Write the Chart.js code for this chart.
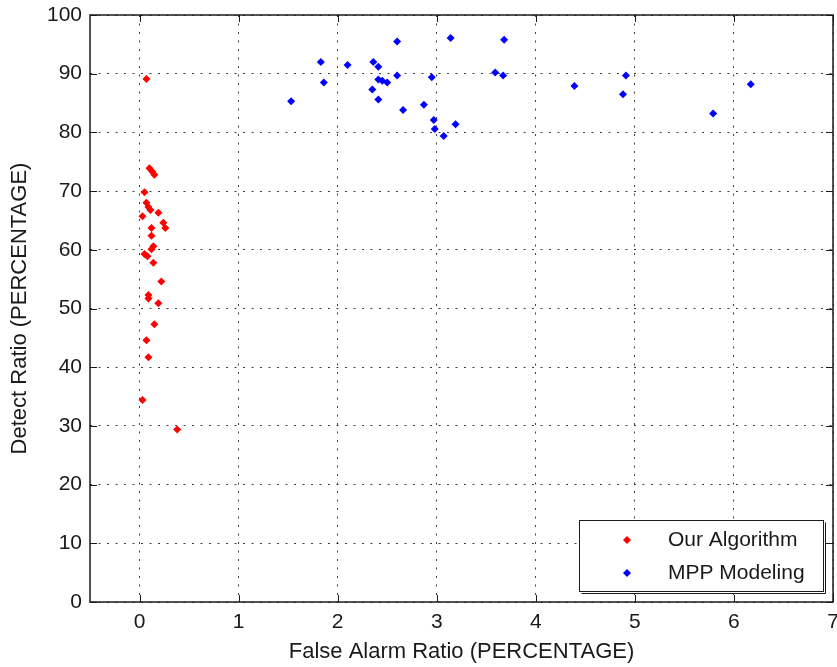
<!DOCTYPE html>
<html>
<head>
<meta charset="utf-8">
<script src="https://cdn.jsdelivr.net/npm/chart.js@4.4.1/dist/chart.umd.min.js"></script>
<style>
  html, body { margin: 0; padding: 0; background: #fff; }
  #wrap { width: 837px; height: 667px; }
</style>
</head>
<body>
<div id="wrap"><canvas id="chart" width="837" height="667"></canvas></div>
<script>
// values
const ourX = [0.07, 0.10, 0.13, 0.15, 0.05, 0.07, 0.09, 0.11, 0.19, 0.03, 0.24, 0.26, 0.12, 0.12,
              0.14, 0.12, 0.05, 0.08, 0.14, 0.22, 0.09, 0.09, 0.19, 0.15, 0.07, 0.09, 0.03, 0.38];
const ourY = [89.1, 73.9, 73.3, 72.8, 69.8, 68.0, 67.3, 66.8, 66.3, 65.7, 64.6, 63.7, 63.7, 62.4,
              60.6, 60.1, 59.3, 58.9, 57.8, 54.6, 52.3, 51.7, 50.9, 47.3, 44.6, 41.7, 34.4, 29.4];

const mppX = [1.53, 1.83, 1.86, 2.10, 2.60, 2.36, 2.41, 2.41, 2.45, 2.50, 2.35, 2.41, 2.60, 2.66, 2.95,
              2.87, 2.97, 2.98, 3.07, 3.19, 3.14, 3.68, 3.59, 3.67, 4.39, 4.91, 4.88, 5.79, 6.17];
const mppY = [85.3, 92.0, 88.5, 91.5, 95.5, 92.0, 91.2, 89.0, 88.8, 88.5, 87.3, 85.6, 89.7, 83.8, 89.4,
              84.7, 82.1, 80.6, 79.4, 81.4, 96.1, 95.8, 90.2, 89.7, 87.9, 89.7, 86.5, 83.2, 88.2];

const xTicks = [0, 1, 2, 3, 4, 5, 6, 7];
const yTicks = [0, 10, 20, 30, 40, 50, 60, 70, 80, 90, 100];
const seriesNames = ["Our Algorithm", "MPP Modeling"];
const seriesColors = ["#ff0000", "#0000ff"];

const toPoints = (xs, ys) => xs.map((x, i) => ({ x: x, y: ys[i] }));

const FONT = "'Liberation Sans', Arial, sans-serif";
const ink = "#1a1a1a";

// MATLAB style box, inward ticks and legend
const matlabFrame = {
  id: "matlabFrame",
  afterDraw(chart) {
    const { ctx, chartArea: a, scales } = chart;
    const len = 7;
    ctx.save();
    ctx.strokeStyle = ink;
    ctx.lineWidth = 1;
    ctx.beginPath();
    xTicks.forEach((v) => {
      const px = Math.round(scales.x.getPixelForValue(v)) + 0.5;
      ctx.moveTo(px, a.bottom); ctx.lineTo(px, a.bottom - len);
      ctx.moveTo(px, a.top); ctx.lineTo(px, a.top + len);
    });
    yTicks.forEach((v) => {
      const py = Math.round(scales.y.getPixelForValue(v)) + 0.5;
      ctx.moveTo(a.left, py); ctx.lineTo(a.left + len, py);
      ctx.moveTo(a.right, py); ctx.lineTo(a.right - len, py);
    });
    ctx.stroke();
    ctx.lineWidth = 1.5;
    ctx.strokeRect(a.left, a.top, a.right - a.left, a.bottom - a.top);

    // legend box
    const bx = 579.5, by = 520.5, bw = 244, bh = 71;
    ctx.fillStyle = "#fff";
    ctx.fillRect(bx, by, bw, bh);
    ctx.lineWidth = 1;
    ctx.strokeRect(bx, by, bw, bh);
    ctx.beginPath();
    ctx.moveTo(bx + 2, by + bh + 2); ctx.lineTo(bx + bw + 2, by + bh + 2); ctx.lineTo(bx + bw + 2, by + 2);
    ctx.stroke();

    ctx.font = "21px " + FONT;
    ctx.textBaseline = "middle";
    ctx.textAlign = "left";
    chart.data.datasets.forEach((ds, i) => {
      const cy = 540 + i * 33;
      ctx.fillStyle = ds.backgroundColor;
      ctx.beginPath();
      ctx.moveTo(627, cy - 4); ctx.lineTo(631, cy); ctx.lineTo(627, cy + 4); ctx.lineTo(623, cy);
      ctx.closePath();
      ctx.fill();
      ctx.fillStyle = ink;
      ctx.fillText(ds.label, 668, cy);
    });
    ctx.restore();
  }
};

const gridDots = { dash: [2, 6.5], display: false };

new Chart(document.getElementById("chart"), {
  type: "scatter",
  data: {
    datasets: [
      {
        label: seriesNames[0],
        data: toPoints(ourX, ourY),
        backgroundColor: seriesColors[0],
        borderColor: seriesColors[0],
        pointStyle: "rectRot",
        pointRadius: 4,
        borderWidth: 0,
      },
      {
        label: seriesNames[1],
        data: toPoints(mppX, mppY),
        backgroundColor: seriesColors[1],
        borderColor: seriesColors[1],
        pointStyle: "rectRot",
        pointRadius: 4,
        borderWidth: 0,
      },
    ],
  },
  options: {
    responsive: false,
    animation: false,
    layout: { padding: { top: 15, right: 2, left: 0, bottom: 0 } },
    plugins: {
      legend: { display: false },
      tooltip: { enabled: false },
    },
    scales: {
      x: {
        type: "linear",
        min: -0.5,
        max: 7,
        afterBuildTicks: (scale) => { scale.ticks = xTicks.map((v) => ({ value: v })); },
        afterFit: (scale) => { scale.height = 65; scale.paddingLeft = 0; scale.paddingRight = 0; },
        grid: { color: "rgba(0,0,0,0.75)", lineWidth: 1, drawTicks: false },
        border: gridDots,
        ticks: {
          padding: 8,
          color: ink,
          font: { size: 21, family: FONT },
          maxRotation: 0,
        },
        title: {
          display: true,
          text: "False Alarm Ratio (PERCENTAGE)",
          color: ink,
          font: { size: 22, family: FONT },
          padding: { top: 0, bottom: 2 },
        },
      },
      y: {
        min: 0,
        max: 100,
        afterBuildTicks: (scale) => { scale.ticks = yTicks.map((v) => ({ value: v })); },
        afterFit: (scale) => { scale.width = 90; scale.paddingTop = 0; scale.paddingBottom = 0; },
        grid: { color: "rgba(0,0,0,0.75)", lineWidth: 1, drawTicks: false },
        border: gridDots,
        ticks: {
          padding: 8,
          color: ink,
          font: { size: 21, family: FONT },
        },
        title: {
          display: true,
          text: "Detect Ratio (PERCENTAGE)",
          color: ink,
          font: { size: 22, family: FONT },
          padding: { top: 7, bottom: 0 },
        },
      },
    },
  },
  plugins: [matlabFrame],
});
</script>
</body>
</html>
